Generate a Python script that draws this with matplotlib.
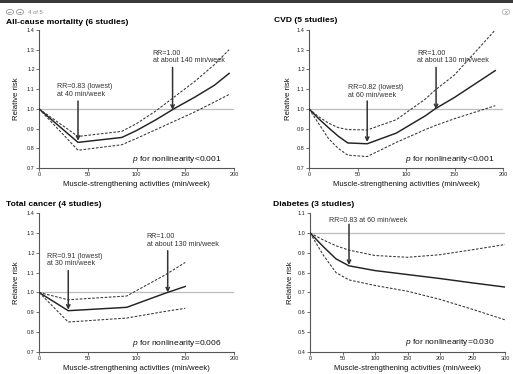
import matplotlib
matplotlib.use("Agg")
import matplotlib.pyplot as plt
from matplotlib.patches import Rectangle, Circle

plt.rcParams['font.family'] = ['Liberation Sans', 'DejaVu Sans']
plt.rcParams['mathtext.fontset'] = 'custom'
plt.rcParams['mathtext.it'] = 'Liberation Sans:italic'
plt.rcParams['mathtext.rm'] = 'Liberation Sans'

# ---------------- data ----------------
# Panel 1: all-cause mortality
ac_x = [0, 40, 85, 100, 120, 140, 160, 180, 195]
ac_rr = [1.0, 0.83, 0.855, 0.89, 0.945, 1.005, 1.06, 1.12, 1.18]
ac_hi = [1.0, 0.86, 0.886, 0.925, 0.99, 1.065, 1.14, 1.225, 1.30]
ac_lo = [1.0, 0.79, 0.818, 0.85, 0.895, 0.94, 0.985, 1.035, 1.073]

# Panel 2: CVD
cvd_x = [0, 10, 20, 30, 40, 60, 90, 120, 130, 150, 192]
cvd_rr = [1.0, 0.95, 0.905, 0.862, 0.827, 0.823, 0.877, 0.965, 1.0, 1.058, 1.194]
cvd_hi = [1.0, 0.96, 0.928, 0.905, 0.895, 0.893, 0.945, 1.05, 1.095, 1.172, 1.40]
cvd_lo = [1.0, 0.925, 0.85, 0.80, 0.765, 0.758, 0.83, 0.895, 0.915, 0.95, 1.016]

# Panel 3: total cancer
tc_x = [0, 30, 90, 130, 150]
tc_rr = [1.0, 0.908, 0.925, 0.997, 1.03]
tc_hi = [1.0, 0.963, 0.982, 1.09, 1.151]
tc_lo = [1.0, 0.851, 0.871, 0.905, 0.92]

# Panel 4: diabetes
db_x = [0, 20, 40, 60, 100, 150, 200, 250, 300]
db_rr = [1.0, 0.932, 0.869, 0.834, 0.81, 0.79, 0.77, 0.748, 0.727]
db_hi = [1.0, 0.965, 0.935, 0.913, 0.886, 0.877, 0.89, 0.915, 0.941]
db_lo = [1.0, 0.89, 0.80, 0.763, 0.735, 0.706, 0.665, 0.615, 0.562]

panels = [
    dict(title="All-cause mortality (6 studies)", x=ac_x, rr=ac_rr, hi=ac_hi, lo=ac_lo,
         xlim=(0, 200), xticks=[0, 50, 100, 150, 200],
         ylim=(0.7, 1.4), yticks=[0.7, 0.8, 0.9, 1.0, 1.1, 1.2, 1.3, 1.4],
         ptext="for nonlinearity<0.001", ppos=(95, 0.737),
         notes=[("RR=0.83 (lowest)\nat 40 min/week", (18.5, 1.13), (40, 1.04), (40, 0.838)),
                ("RR=1.00\nat about 140 min/week", (116.5, 1.30), (137, 1.21), (137, 0.995))]),
    dict(title="CVD (5 studies)", x=cvd_x, rr=cvd_rr, hi=cvd_hi, lo=cvd_lo,
         xlim=(0, 200), xticks=[0, 50, 100, 150, 200],
         ylim=(0.7, 1.4), yticks=[0.7, 0.8, 0.9, 1.0, 1.1, 1.2, 1.3, 1.4],
         ptext="for nonlinearity<0.001", ppos=(98.5, 0.737),
         notes=[("RR=0.82 (lowest)\nat 60 min/week", (40.5, 1.125), (60, 1.04), (60, 0.832)),
                ("RR=1.00\nat about 130 min/week", (111.5, 1.30), (131, 1.21), (131, 0.998))]),
    dict(title="Total cancer (4 studies)", x=tc_x, rr=tc_rr, hi=tc_hi, lo=tc_lo,
         xlim=(0, 200), xticks=[0, 50, 100, 150, 200],
         ylim=(0.7, 1.4), yticks=[0.7, 0.8, 0.9, 1.0, 1.1, 1.2, 1.3, 1.4],
         ptext="for nonlinearity=0.006", ppos=(95, 0.735),
         notes=[("RR=0.91 (lowest)\nat 30 min/week", (8.5, 1.20), (30, 1.11), (30, 0.913)),
                ("RR=1.00\nat about 130 min/week", (110.5, 1.30), (132, 1.21), (132, 1.0))]),
    dict(title="Diabetes (3 studies)", x=db_x, rr=db_rr, hi=db_hi, lo=db_lo,
         xlim=(0, 300), xticks=[0, 50, 100, 150, 200, 250, 300],
         ylim=(0.4, 1.1), yticks=[0.4, 0.5, 0.6, 0.7, 0.8, 0.9, 1.0, 1.1],
         ptext="for nonlinearity=0.030", ppos=(146, 0.438),
         notes=[("RR=0.83 at 60 min/week", (29.5, 1.082), (60, 1.043), (60, 0.838))]),
]

W, H = 513, 374
fig = plt.figure(figsize=(W / 100, H / 100), dpi=100)
fig.patch.set_facecolor('white')

# axes rectangles in pixels: (left, right, top, bottom)
rects = [(39, 234, 30, 168), (309, 503, 30, 168), (39, 234, 213, 352), (310, 505, 213, 352)]
title_pos = [(6, 22), (274, 20), (6, 205), (273, 205)]
ylab_x = [16, 289, 16, 290]

dark = '#222222'
for p, r, tp, yl in zip(panels, rects, title_pos, ylab_x):
    l, rr_, t, b = r
    ax = fig.add_axes([l / W, 1 - b / H, (rr_ - l) / W, (b - t) / H])
    ax.set_xlim(*p['xlim'])
    ax.set_ylim(*p['ylim'])
    ax.set_xticks(p['xticks'])
    ax.set_yticks(p['yticks'])
    ax.set_xticklabels([str(v) for v in p['xticks']])
    ax.set_yticklabels([f"{v:.1f}" for v in p['yticks']])
    for s in ['top', 'right']:
        ax.spines[s].set_visible(False)
    for s in ['left', 'bottom']:
        ax.spines[s].set_linewidth(0.8)
        ax.spines[s].set_color('#555555')
    ax.tick_params(axis='both', length=2, width=0.6, pad=1, labelsize=4.0,
                   colors='#555555', labelcolor='#222222')
    ax.axhline(1.0, color='#bdbdbd', lw=0.9, zorder=1)
    ax.plot(p['x'], p['rr'], color=dark, lw=1.05, zorder=3)
    ax.plot(p['x'], p['hi'], color='#333333', lw=0.75, ls=(0, (2.5, 1.5)), zorder=3)
    ax.plot(p['x'], p['lo'], color='#333333', lw=0.75, ls=(0, (2.5, 1.5)), zorder=3)
    for txt, tpos, a0, a1 in p['notes']:
        ax.text(tpos[0], tpos[1], txt, fontsize=5.1, color='#333333', va='top', ha='left',
                linespacing=1.15)
        ax.annotate('', xy=a1, xytext=a0,
                    arrowprops=dict(arrowstyle='->', lw=1.1, color='#333333',
                                    mutation_scale=6, shrinkA=0, shrinkB=0), zorder=4)
    ax.text(p['ppos'][0], p['ppos'][1], r'$\it{p}$ ' + p['ptext'], fontsize=6.0,
            color='#111111', ha='left', va='baseline')
    fig.text((l + rr_) / 2 / W, 1 - (b + 16) / H, 'Muscle-strengthening activities (min/week)',
             fontsize=5.6, ha='center', va='center', color='#111111')
    fig.text(yl / W, 1 - (t + b) / 2 / H, 'Relative risk', fontsize=5.6, rotation=90,
             ha='center', va='center', color='#111111')
    fig.text(tp[0] / W, 1 - tp[1] / H, p['title'], fontsize=6.1, fontweight='bold',
             ha='left', va='center', color='#000000')

# viewer chrome: dark top bar, navigation, close button
fig.patches.append(Rectangle((0, 1 - 3 / H), 1, 3 / H, transform=fig.transFigure,
                             facecolor='#3a3a3a', edgecolor='none'))
for cx in (10, 20):
    fig.patches.append(Circle((cx / W, 1 - 12 / H), 3.6 / W, transform=fig.transFigure,
                              facecolor='white', edgecolor='#888888', lw=0.5))
fig.text(10 / W, 1 - 12 / H, '←', fontsize=3.2, ha='center', va='center', color='#666666',
         family=['DejaVu Sans'])
fig.text(20 / W, 1 - 12 / H, '→', fontsize=3.2, ha='center', va='center', color='#666666',
         family=['DejaVu Sans'])
fig.text(28 / W, 1 - 12 / H, '4 of 5', fontsize=4.3, ha='left', va='center', color='#888888')
fig.patches.append(Circle((506 / W, 1 - 12 / H), 3.8 / W, transform=fig.transFigure,
                          facecolor='white', edgecolor='#aaaaaa', lw=0.5))
fig.text(506 / W, 1 - 12 / H, 'x', fontsize=3.8, ha='center', va='center', color='#777777')

fig.savefig('out.png', dpi=100)
